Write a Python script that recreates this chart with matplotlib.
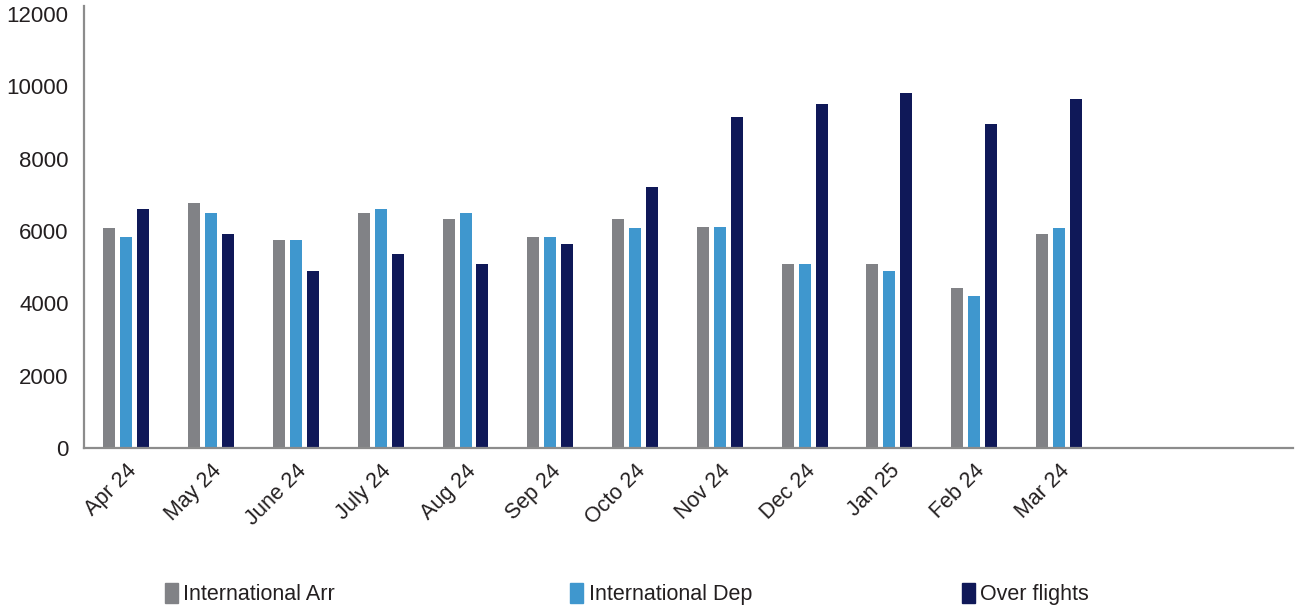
import matplotlib
matplotlib.use("Agg")
import matplotlib.pyplot as plt
import numpy as np
from matplotlib.patches import Patch

months = ["Apr 24", "May 24", "June 24", "July 24", "Aug 24", "Sep 24",
          "Octo 24", "Nov 24", "Dec 24", "Jan 25", "Feb 24", "Mar 24"]
intl_arr = [6080, 6770, 5745, 6490, 6330, 5830, 6330, 6100, 5080, 5080, 4420, 5910]
intl_dep = [5830, 6490, 5745, 6600, 6490, 5830, 6080, 6100, 5080, 4890, 4200, 6080]
over_flights = [6600, 5910, 4890, 5360, 5080, 5640, 7210, 9150, 9510, 9810, 8950, 9650]
series_names = ["International Arr", "International Dep", "Over flights"]
colors = ["#818286", "#3f97ce", "#0f1858"]
yticks = [0, 2000, 4000, 6000, 8000, 10000, 12000]

plt.rcParams['font.family'] = ['Liberation Sans', 'DejaVu Sans']
text_color = "#231f20"

fig = plt.figure(figsize=(12.96, 6.12), dpi=100)
ax = fig.add_axes([0.0648, 0.268, 0.9329, 0.722])

x = np.arange(len(months))
step = 0.2
width = 0.1415
for i, (vals, c) in enumerate(zip([intl_arr, intl_dep, over_flights], colors)):
    ax.bar(x + (i - 1) * step, vals, width=width, color=c, zorder=2)

ax.set_xlim(-0.5, 13.76)
ax.set_ylim(0, 12220)
ax.set_yticks(yticks)
ax.set_yticklabels([str(v) for v in yticks], fontsize=16, color=text_color)
ax.set_xticks(x)
ax.set_xticklabels(months, rotation=45, ha='right', rotation_mode='anchor',
                   fontsize=15.5, color=text_color)
ax.tick_params(axis='both', length=0)
ax.tick_params(axis='y', pad=11)
ax.tick_params(axis='x', pad=9)

for s in ['top', 'right']:
    ax.spines[s].set_visible(False)
for s in ['left', 'bottom']:
    ax.spines[s].set_color('#8c8c8c')
    ax.spines[s].set_linewidth(1.6)

legend_x = [0.127, 0.440, 0.742]
for name, c, lx in zip(series_names, colors, legend_x):
    leg = fig.legend(handles=[Patch(color=c, label=name)], loc='center left',
                     bbox_to_anchor=(lx, 0.029), frameon=False, fontsize=15.5,
                     handlelength=0.6, handleheight=1.0, handletextpad=0.25,
                     borderpad=0, borderaxespad=0)
    for t in leg.get_texts():
        t.set_color(text_color)

fig.savefig("out.png", dpi=100)
